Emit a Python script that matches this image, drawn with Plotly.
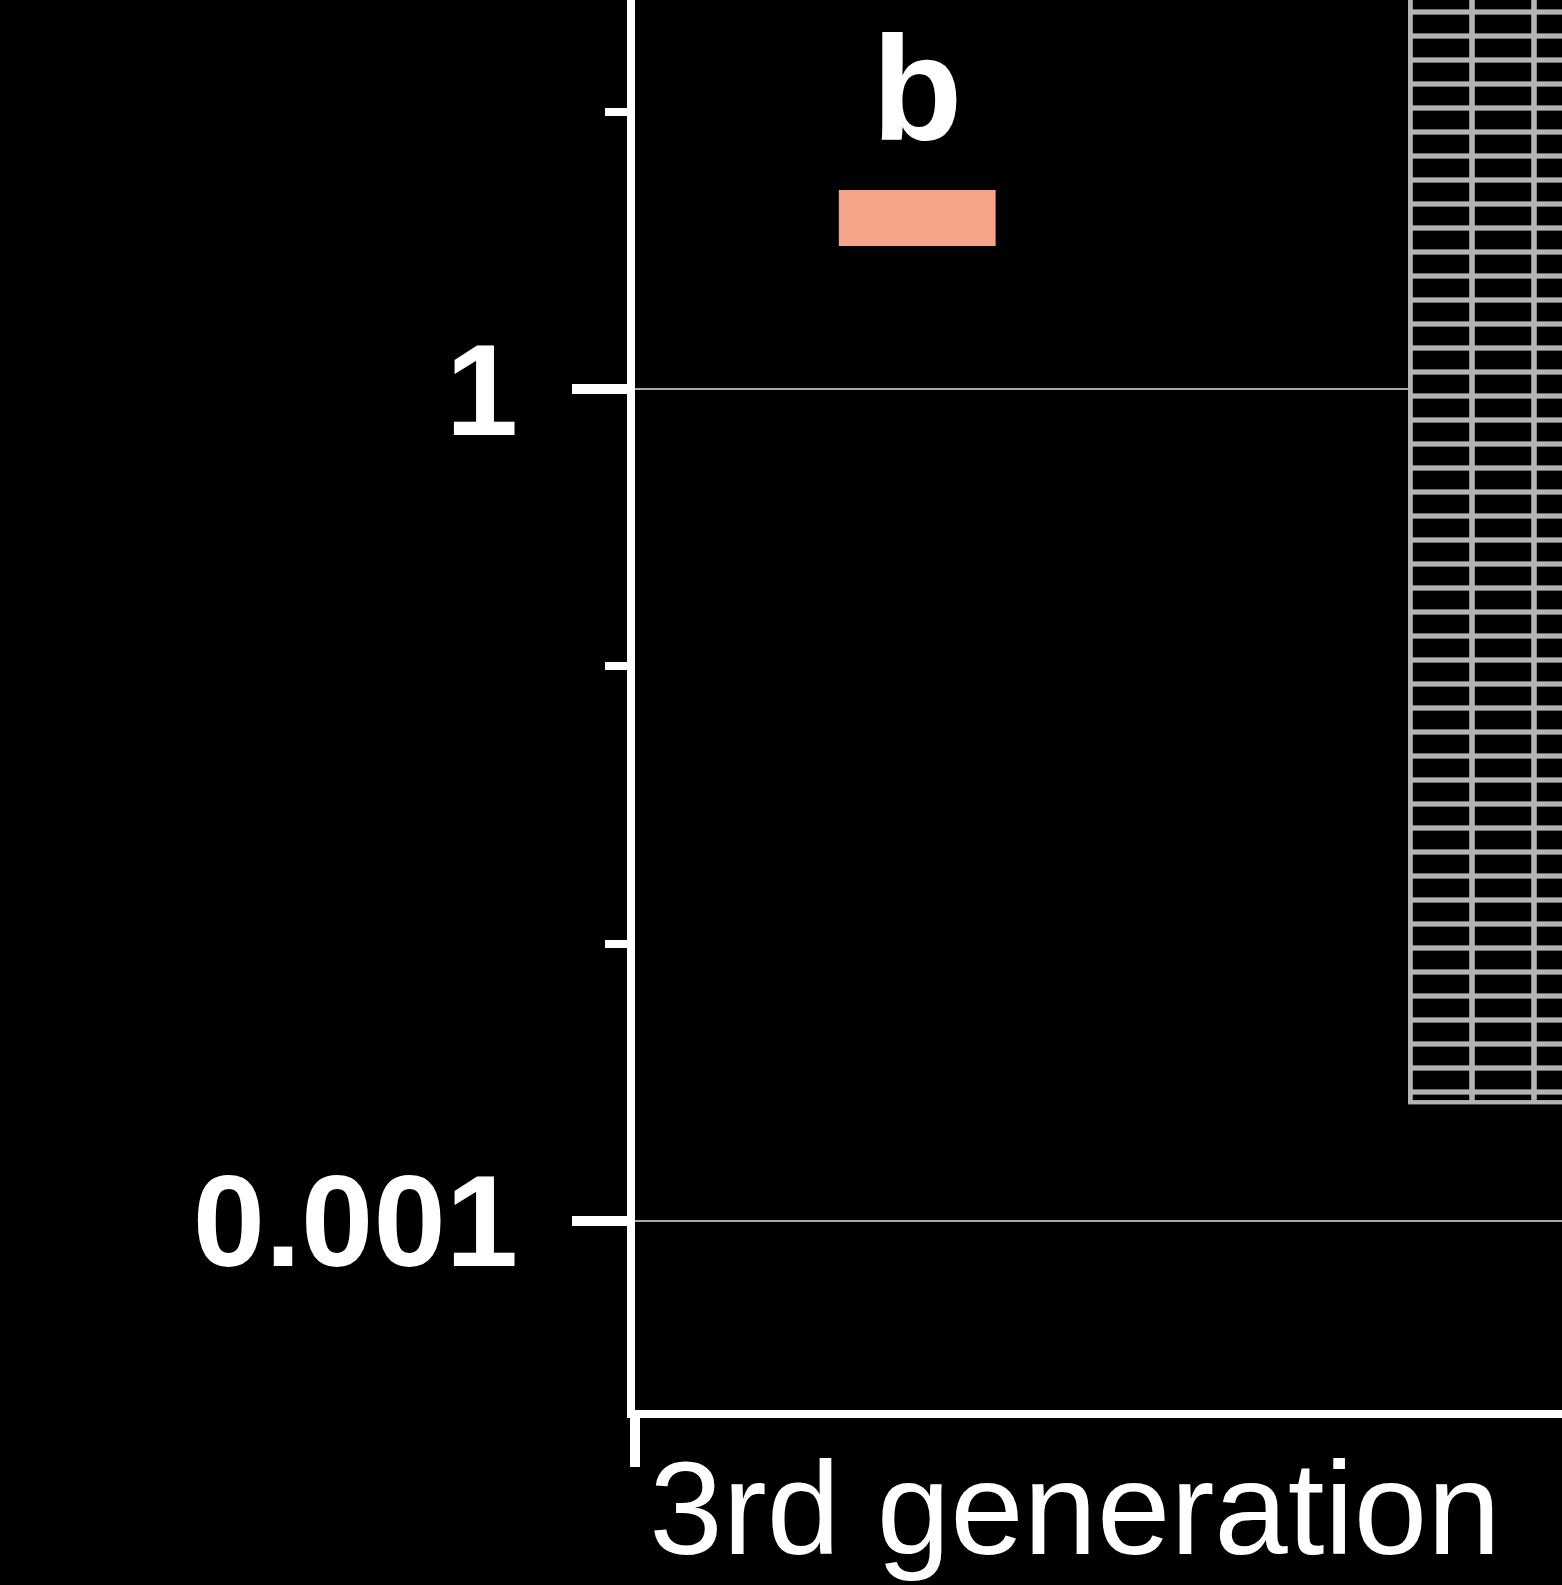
import plotly.graph_objects as go
import math

# ---- data ----
group_labels = ["3rd generation"]
group_pos = [0]
bar_low = [0.00268]
bar_high = [300.0]
bar_pos = [1.0]
marker_pos = [-0.176]
marker_low = [3.28]
marker_high = [5.22]
letters = ["b"]
y_major_vals = [1, 0.001]
y_major_text = ["1", "0.001"]
y_minor_vals = [10, 0.1, 0.01]

GRID = "#b4b4b4"
SALMON = "#F6A58A"
X0 = -0.491
X1 = X0 + 927 / 896

fig = go.Figure()

# hatched (grid) bar: horizontal lines + vertical lines overlaid
for shape, size, sol, bg in (("-", 24, 0.22, "black"), ("|", 62, 0.09, "rgba(0,0,0,0)")):
    fig.add_trace(go.Bar(
        x=bar_pos, y=[h - l for h, l in zip(bar_high, bar_low)], base=bar_low,
        width=1.252,
        marker=dict(color=GRID, line=dict(color=GRID, width=4),
                    pattern=dict(shape=shape, size=size, solidity=sol,
                                 fgcolor=GRID, bgcolor=bg, fillmode="replace")),
        showlegend=False, hoverinfo="skip"))

# salmon marker bar
fig.add_trace(go.Bar(
    x=marker_pos, y=[h - l for h, l in zip(marker_high, marker_low)], base=marker_low,
    width=0.175, marker=dict(color=SALMON, line=dict(width=0)),
    showlegend=False, hoverinfo="skip"))

for xp, top, letter in zip(marker_pos, marker_high, letters):
    fig.add_annotation(x=xp, y=math.log10(top), text=letter, showarrow=False,
                       yanchor="bottom", yshift=17,
                       font=dict(family="Liberation Sans, Arial", size=148,
                                 color="white", weight="bold"))

fig.update_layout(
    width=1562, height=1585,
    paper_bgcolor="black", plot_bgcolor="black",
    margin=dict(l=635, r=0, t=0, b=175, autoexpand=False),
    barmode="overlay",
    showlegend=False,
)

fig.update_xaxes(
    type="linear", range=[X0, X1],
    tickvals=group_pos, ticktext=group_labels,
    ticks="", showgrid=False, zeroline=False, automargin=False,
    ticklabeloverflow="allow", ticklabelstandoff=-22,
    showline=True, linecolor="white", linewidth=8,
    tickfont=dict(family="Liberation Sans, Arial", size=132, color="white"),
    minor=dict(tickvals=[X0], ticks="outside", ticklen=49, tickwidth=10,
               tickcolor="white", showgrid=False),
)

fig.update_yaxes(
    type="log", range=[-3.682, 1.403],
    tickvals=y_major_vals, ticktext=y_major_text,
    ticks="outside", ticklen=55, tickwidth=10, tickcolor="white",
    showline=True, linecolor="white", linewidth=8,
    showgrid=True, gridcolor="#a8a8a8", gridwidth=2,
    zeroline=False, automargin=False,
    ticklabelstandoff=28,
    tickfont=dict(family="Liberation Sans, Arial", size=130, color="white", weight="bold"),
    minor=dict(tickvals=y_minor_vals, ticks="outside", ticklen=22, tickwidth=8,
               tickcolor="white", showgrid=False),
)

fig.write_html(
    "out.html",
    config={"displayModeBar": False},
    post_script="document.body.style.margin='0';document.body.style.background='black';",
)
